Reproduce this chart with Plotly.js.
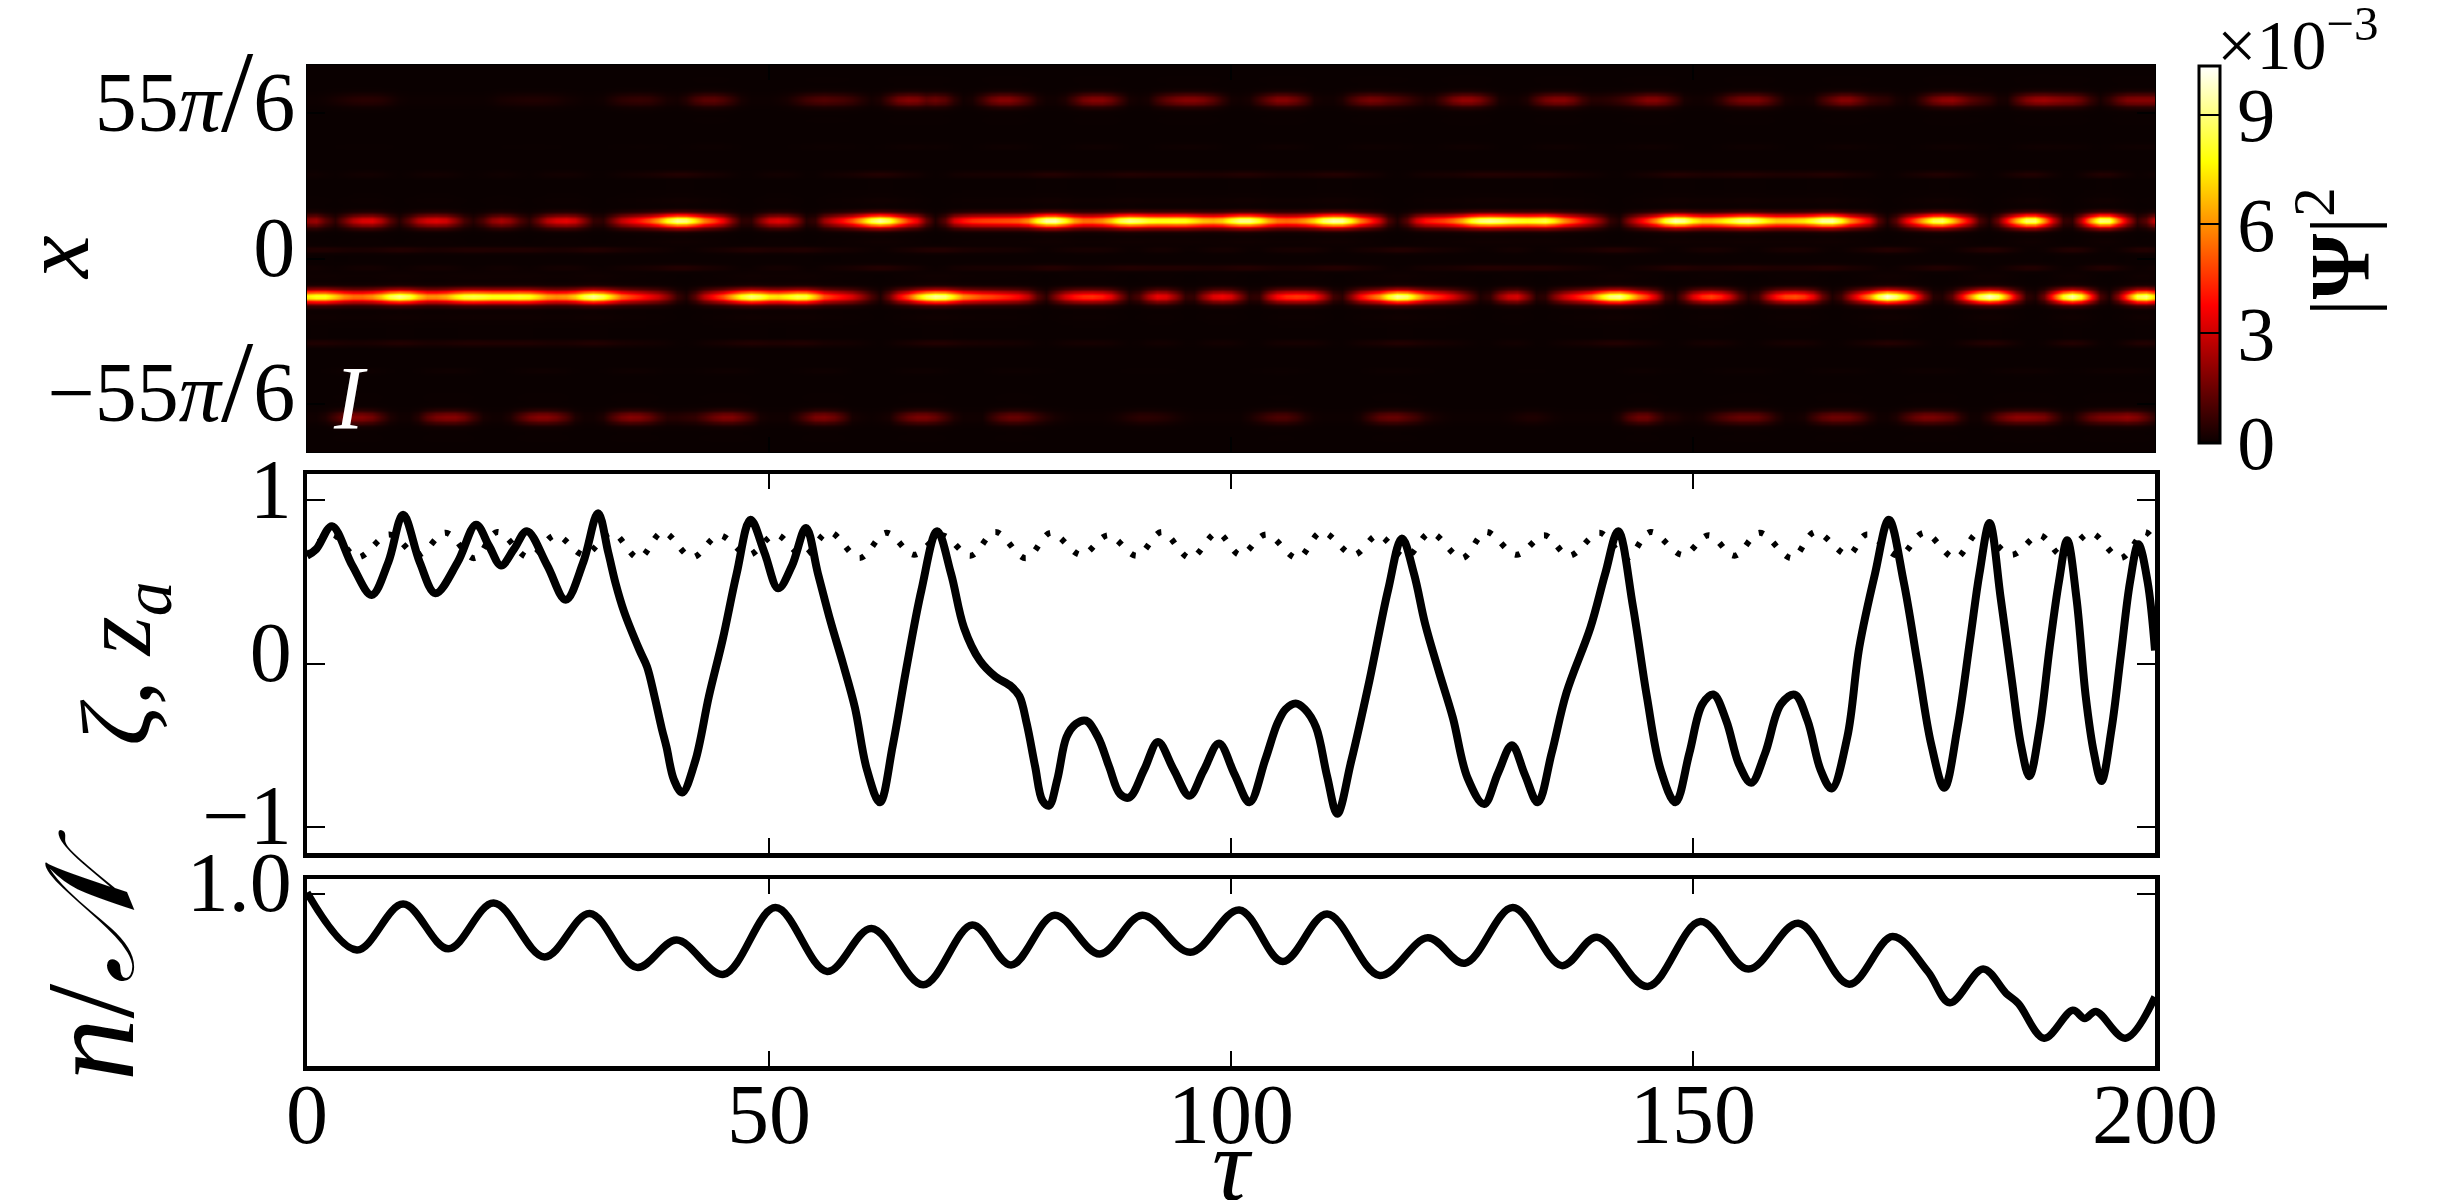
<!DOCTYPE html>
<html><head><meta charset="utf-8">
<script src="https://cdn.plot.ly/plotly-3.0.1.min.js"></script>
<style>html,body{margin:0;padding:0;background:#fff}</style></head>
<body><div id="plot" style="width:2460px;height:1200px"></div>
<script>
// Heatmap band intensities (x 10^-3), one value per unit of tau, tau = 0..200
const bandUpper = [
2,2.2,1.2,.5,1.5,2.6,3.2,3.3,2.5,1.2,
.4,1.3,2.5,3.1,3.3,3,2,.9,.4,1,
2,2.4,2,1,.5,1.4,2.6,3.2,3.4,3,
1.8,.6,.5,1.6,2.8,3.5,4.2,5,6.2,8,
9.3,9,7.5,5.8,4.7,3.5,1.8,.5,.5,1.8,
3,3.3,3,1.8,.4,.6,2.2,3.2,4,5,
6.5,8.5,9.4,8.5,6.5,4.6,3.5,1.4,.3,1.2,
3.2,4,4.5,4.7,4.8,4.9,5,5.2,6,8,
9.5,9.6,8,6.3,5.5,5.5,6,7,8.5,9.2,
8.8,8.2,8,8,8.1,8,7.4,6.8,6.6,7,
8.2,9.2,9.2,8,6.5,5.6,5.4,5.6,6.2,7.2,
8.8,9.6,9.4,7.8,5.8,4.4,3,1,.3,1.2,
3,4,4.4,4.8,5.5,6.5,8,9,9.3,9,
8.5,8.2,8,8.2,8.5,7.5,6,5,4,3,
1.8,.6,.3,1.8,3.3,4.5,6,8.2,9.6,9.2,
7.8,7,7,7.5,8.2,9,9.2,8.5,7.6,7,
7,7.2,7.5,8.3,9.4,9.5,8,6,4.8,3.5,
1.2,.3,1.2,3.4,5,6.8,8.5,8.8,7,5,
3.2,1,.3,1.5,4,6.5,8.8,8.8,6,3,
.6,.5,2.8,6,9,8.8,5.5,2.8,.6,1.2,
3];
const bandLower = [
7.5,8,8,7,6,5.5,5.5,6,7,8.5,
9.2,8.5,7,6,6,6.5,7.5,8.3,8.5,8.3,
8,8,8,8.2,8,7.2,6.3,6,6.2,7,
8.5,9.3,8.5,7,5.5,4.8,4.2,3.6,3,2,
.7,.3,1.2,2.8,4,5,6.5,8,9,8.5,
7.5,7.3,7.8,8.5,8.3,6.8,5,4.3,3.8,3.2,
2.2,1,.3,1.5,3.5,5,7,8.5,9.3,9,
7.5,6,5.5,5,4.8,4.5,4.2,3.8,2.8,1.2,
.5,1.8,3.2,4,4.4,4.5,4.2,3.4,1.8,.5,
1,2.5,3.5,3.3,2,.6,.6,2,3.3,3.6,
3.2,1.8,.5,.6,2.4,3.8,4.4,4.6,4.5,4,
2.6,.8,.5,2,3.8,5,6,8,9.3,8.8,
7,5.5,4.7,4,3.2,2.2,1.2,.3,.6,2,
3,3.2,1.8,.4,.5,1.8,3,3.8,4.6,5.5,
7.5,9,9.3,7.8,5.8,4.6,3,.8,.3,1.5,
3.3,4.4,4.8,4.2,3,1.3,.4,.8,2.5,4,
4.8,5,4.6,3.5,1.5,.3,.8,2.5,4.2,6,
8.5,10,9,7,4.5,2,.4,.3,1.2,3.5,
6,8.5,9.8,8.8,6,3,.6,.3,1.5,4.5,
8,9.5,8,4.5,1,.3,2,5,8.5,9,
7];
const bandTop = [
.05,.05,.1,.2,.3,.4,.45,.45,.4,.25,
.1,.05,.05,.05,.05,.05,.05,.05,.05,.05,
.1,.2,.25,.3,.33,.33,.3,.25,.15,.1,
.05,.05,.1,.3,.5,.6,.65,.6,.4,.2,
.15,.4,.9,1.2,1.25,1,.6,.2,.05,.05,
.05,.1,.2,.5,.8,1,1.1,1,.9,.7,
.4,.15,.3,.9,1.6,1.9,1.8,1.3,1.5,1.2,
.5,.1,.2,.8,1.5,1.9,1.9,1.5,.9,.3,
.1,.1,.3,.9,1.6,1.9,1.9,1.5,.8,.2,
.1,.2,.8,1.3,1.7,1.9,1.9,1.7,1.2,.6,
.15,.1,.2,.8,1.4,1.9,1.9,1.5,.9,.2,
.1,.1,.3,.9,1.4,1.7,1.6,1.3,1.1,.8,
.5,.3,.4,1,1.7,2.1,2.1,1.7,.9,.2,
.1,.1,.3,1,1.6,1.9,1.9,1.5,.8,.4,
.4,.5,.7,1,1.5,1.9,1.9,1.5,.8,.2,
.1,.1,.2,.6,1.2,1.6,1.7,1.7,1.3,.7,
.2,.1,.1,.2,.8,1.4,1.9,1.9,1.4,.8,
.6,.5,.2,.1,.3,.9,1.6,2,2.1,1.7,
1.2,.9,.6,.2,.2,1,1.8,2.2,2.3,2.1,
1.9,1.8,1.4,.7,.2,.6,1.3,1.8,1.9,1.9,
1.9];
const bandBottom = [
.1,.1,.3,.9,1.5,1.9,1.9,1.6,.9,.3,
.1,.1,.4,1.2,1.7,1.9,1.9,1.5,.8,.2,
.1,.1,.3,1,1.6,1.9,1.9,1.6,1,.3,
.1,.1,.3,1,1.6,1.9,1.8,1.4,.8,.4,
.4,.5,.6,1,1.5,1.8,1.8,1.4,.8,.2,
.1,.1,.1,.5,1.1,1.7,1.8,1.5,.9,.2,
.1,.05,.1,.2,.8,1.4,1.7,1.7,1.4,.8,
.3,.1,.1,.1,.6,1.1,1.4,1.4,1.1,.7,
.4,.2,.1,.05,.05,.05,.05,.1,.2,.35,
.5,.5,.45,.35,.2,.1,.05,.05,.05,.05,
.05,.05,.2,.5,.8,1,1,.7,.3,.1,
.05,.05,.05,.05,.2,.7,1.2,1.4,1.4,1.1,
.8,.4,.2,.1,.05,.05,.05,.05,.05,.05,
.1,.2,.3,.3,.2,.1,.05,.05,.05,.05,
.05,.05,.3,1,1.5,1.5,.9,.4,.3,.15,
.1,.2,.5,.9,1.2,1.4,1.4,1.3,.9,.4,
.1,.1,.2,.7,1.2,1.5,1.5,1.4,1,.4,
.1,.1,.3,.9,1.4,1.7,1.7,1.5,1.2,.5,
.1,.1,.5,1.2,1.7,2,2,1.9,1.7,1,
.3,.2,.7,1.3,1.7,1.8,1.9,2.1,1.8,1.2,
.5];
// band centres in x, and the band's cross-section read every 0.25 of x away from its centre
const bandCentres = [7.5, -7.4, 31.5, -31.5];
const crossSection = [
1,.96,.86,.71,.54,.38,.25,.15,.085,.044,
.02,.01,.006,.006,.008,.009,.01,.01,.008,.006,
.004,.003,.003,.002,.002,.001,.001,.001,.001,.001,
.001,.001,.001,.004,.012,.025,.037,.04,.037,.025,
.012,.004,.001];

// zeta(tau), solid line
const zetaTau = [0,1,2.7,4.9,7,8.8,10.4,12.2,13.9,16.3,18.3,19.7,21,22.4,23.8,26,28,29.9,31.5,32.6,33.4,34.3,36,36.8,37.6,38.4,38.9,39.7,40.6,42,43.5,45,46.5,48,49.5,51,52.5,54,55.3,56.7,58,59.3,60.6,62,63.4,64.8,66.5,68.2,69.7,71.1,72.8,74.5,76.2,77.1,77.9,78.8,79.6,80.3,81.2,82.2,83.2,84.3,85.6,86.8,88,89,90.6,92.1,93.8,95.5,97,98.7,100.4,102,103.7,105,105.9,107,108,109.2,110.4,111.5,113,115,117,118.5,119.8,121,122.5,124,125.6,127.4,128.9,130.4,131.8,133.2,134.7,136.3,138.9,140.5,141.9,143.5,145,146.5,148.1,149.6,151,152.2,153.6,155,156.3,157.8,159.5,161,162.4,163.8,165,166.7,168,169.7,171.2,172.8,174.3,175.8,177.2,178.6,180,181,182.1,183.3,184.5,185.5,186.4,187.5,188.6,189.6,190.5,191.5,192.5,193.4,194.2,195.3,196.3,197.3,198.2,199.2,200];
const zetaVal = [.66,.7,.84,.6,.42,.62,.91,.62,.43,.62,.85,.72,.6,.7,.81,.6,.39,.62,.92,.68,.49,.32,.08,-.02,-.2,-.4,-.51,-.71,-.79,-.6,-.2,.15,.55,.88,.68,.46,.6,.83,.55,.25,0,-.27,-.65,-.85,-.5,-.05,.45,.81,.55,.22,.02,-.08,-.14,-.2,-.37,-.63,-.84,-.87,-.71,-.45,-.37,-.35,-.45,-.63,-.8,-.82,-.65,-.48,-.65,-.81,-.66,-.49,-.68,-.85,-.59,-.37,-.28,-.245,-.28,-.39,-.69,-.92,-.6,-.1,.45,.765,.55,.245,-.05,-.33,-.7,-.86,-.67,-.5,-.68,-.85,-.55,-.18,.22,.55,.81,.35,-.2,-.65,-.85,-.55,-.25,-.19,-.35,-.62,-.73,-.55,-.25,-.19,-.35,-.65,-.765,-.45,.1,.55,.88,.5,0,-.5,-.76,-.4,.15,.55,.86,.4,-.1,-.5,-.69,-.4,.1,.5,.755,.4,-.2,-.55,-.72,-.4,.05,.5,.73,.5,.08];

// z_a(tau), dotted line
const zaTau = [0,2.7,5.5,8.9,12,15,18.1,20.6,24,26.9,30,33,35.9,38.5,41.7,44.6,47.8,50.7,53.7,56.5,59.8,62.7,65.7,68.7,71.8,74.5,77.8,80.5,83.8,86.7,89.8,92.5,95.6,98.5,101,103.8,107.2,109.8,113.3,115.9,118.9,121.6,125,127.6,130.9,133.9,136.6,139.9,142.8,145.4,148.9,151.7,154.5,157.2,160.7,163.2,166.8,168.8,172.3,175,178.4,181,184.5,187.5,190,193,196.3,198.9,200];
const zaVal = [.66,.79,.65,.79,.665,.8,.645,.805,.65,.785,.665,.8,.645,.805,.65,.785,.665,.79,.66,.805,.645,.8,.665,.785,.66,.805,.645,.8,.665,.785,.66,.805,.645,.8,.665,.79,.645,.805,.665,.785,.65,.8,.645,.805,.665,.785,.66,.8,.645,.805,.665,.785,.66,.8,.645,.805,.665,.79,.66,.8,.645,.805,.665,.785,.66,.8,.645,.805,.74];

// n/N(tau)
const normTau = [0,5.4,10.4,15.3,20.2,25.7,30.6,35.7,40,45.1,50.7,56.3,61.1,66.7,72,76.2,80.9,85.8,90.4,95.6,100.9,105.6,110.4,116.1,121.3,125.3,130.5,135.8,139.6,145.1,150.8,156,161.4,166.9,171.6,175.4,177.8,181.4,183.9,185.2,188,191.1,192.4,193.6,196.8,200];
const normVal = [1.002,.903,.982,.905,.984,.891,.966,.873,.92,.861,.976,.866,.94,.843,.946,.877,.963,.896,.963,.899,.972,.883,.965,.859,.924,.88,.976,.876,.925,.84,.952,.87,.949,.844,.926,.866,.812,.87,.828,.811,.751,.799,.785,.797,.751,.822];

const bands = [bandUpper, bandLower, bandTop, bandBottom];
const tauGrid = bandUpper.map((_, i) => i);
const xGrid = [];
for (let k = -154; k <= 154; k++) xGrid.push(k * 0.25);
const zGrid = xGrid.map(x => tauGrid.map(t => {
  let s = 0;
  bands.forEach((b, n) => {
    const idx = Math.round(Math.abs(x - bandCentres[n]) / 0.25);
    if (idx < crossSection.length) s += b[t] * crossSection[idx];
  });
  return s;
}));

const W = 2460, H = 1200;
const px = v => v / W, py = v => 1 - v / H;
const serif = '"Liberation Serif", serif';
const tickFont = {family: serif, size: 84, color: '#000'};
const xDom = [px(307), px(2155)];
const tallSlash = '<span style="font-size:116px">/</span>';

function xAxis(anchor, showLabels, lw) {
  return {domain: xDom, range: [0, 200], anchor, tickmode: 'array', tickvals: [0, 50, 100, 150, 200],
    ticktext: ['0', '50', '100', '150', '200'], showticklabels: showLabels, ticks: 'inside', ticklen: 15, tickwidth: 2,
    tickcolor: '#000', showline: true, linecolor: '#000', linewidth: lw, mirror: 'allticks', showgrid: false, zeroline: false,
    tickfont: tickFont, ticklabelstandoff: -28};
}
function yAxis(anchor, dom, range, vals, text, lw) {
  return {domain: [py(dom[1]), py(dom[0])], range, anchor, tickmode: 'array', tickvals: vals, ticktext: text,
    ticks: 'inside', ticklen: 18, tickwidth: 2, tickcolor: '#000', showline: true, linecolor: '#000', linewidth: lw,
    mirror: 'allticks', showgrid: false, zeroline: false, tickfont: tickFont, ticklabelstandoff: -6, ticklabelshift: -12};
}

const data = [
  {type: 'heatmap', x: tauGrid, y: xGrid, z: zGrid, xaxis: 'x', yaxis: 'y', zsmooth: 'best', zmin: 0, zmax: 10.35,
   colorscale: [[0, 'rgb(10,0,0)'], [0.365, 'rgb(255,0,0)'], [0.746, 'rgb(255,255,0)'], [1, 'rgb(255,255,255)']],
   colorbar: {x: px(2199), xanchor: 'left', xpad: 0, y: py(65.7), yanchor: 'top', ypad: 0, len: 377 / H, lenmode: 'fraction',
     thickness: 21, thicknessmode: 'pixels', outlinecolor: '#000', outlinewidth: 3,
     tickmode: 'array', tickvals: [0, 3, 6, 9], ticktext: ['0', '3', '6', '9'], ticks: 'inside', ticklen: 21, tickwidth: 2,
     tickcolor: '#000', tickfont: {family: serif, size: 76, color: '#000'}}},
  {type: 'scatter', mode: 'lines', x: zaTau, y: zaVal, xaxis: 'x2', yaxis: 'y2',
   line: {color: '#000', width: 6, dash: '5px,13px', shape: 'spline'}},
  {type: 'scatter', mode: 'lines', x: zetaTau, y: zetaVal, xaxis: 'x2', yaxis: 'y2',
   line: {color: '#000', width: 8, shape: 'spline'}},
  {type: 'scatter', mode: 'lines', x: normTau, y: normVal, xaxis: 'x3', yaxis: 'y3',
   line: {color: '#000', width: 7.5, shape: 'spline'}}
];

const x3 = xAxis('y3', true, 4.5);

const y2 = yAxis('x2', [474, 853], [-1.16, 1.16], [-1, 0, 1], ['−1', '0', '1'], 4.5);
y2.title = {text: '<i>ζ</i>, <i>z<sub>a</sub></i>', font: {family: serif, size: 100, color: '#000'}, standoff: 20};
const y3 = yAxis('x3', [879, 1066], [0.703, 1.0253], [1], ['1.0'], 4.5);
y3.title = {text: '<i>n</i>/<i>𝒩</i>', font: {family: serif, size: 125, color: '#000'}, standoff: 12};

const ann = (x, y, text, size, extra) => Object.assign({xref: 'paper', yref: 'paper', x: px(x), y: py(y), xanchor: 'center', yanchor: 'middle',
  text, showarrow: false, font: {family: serif, size, color: '#000'}}, extra || {});

const layout = {
  width: W, height: H, margin: {l: 0, r: 0, t: 0, b: 0}, paper_bgcolor: '#fff', plot_bgcolor: '#fff', showlegend: false,
  xaxis: xAxis('y', false, 1), xaxis2: xAxis('y2', false, 4.5), xaxis3: x3,
  yaxis: yAxis('x', [65, 452], [-38.4, 38.4], [-28.8, 0, 28.8], ['−55<i>π</i>' + tallSlash + '6', '0', '55<i>π</i>' + tallSlash + '6'], 1),
  yaxis2: y2, yaxis3: y3,
  annotations: [
    ann(56, 258, '<i>x</i>', 96, {textangle: -90}),
    ann(350, 398, '<i>I</i>', 90, {font: {family: serif, size: 90, color: '#fff'}}),
    ann(2335, 252, '|<b>Ψ</b>|<sup>2</sup>', 84, {textangle: -90}),
    ann(2298, 40, '×10<sup>−3</sup>', 70),
    ann(1232, 1200, '<i>τ</i>', 104, {yanchor: 'bottom', yshift: -24})
  ]
};
Plotly.newPlot('plot', data, layout, {staticPlot: true, displayModeBar: false});
</script></body></html>
